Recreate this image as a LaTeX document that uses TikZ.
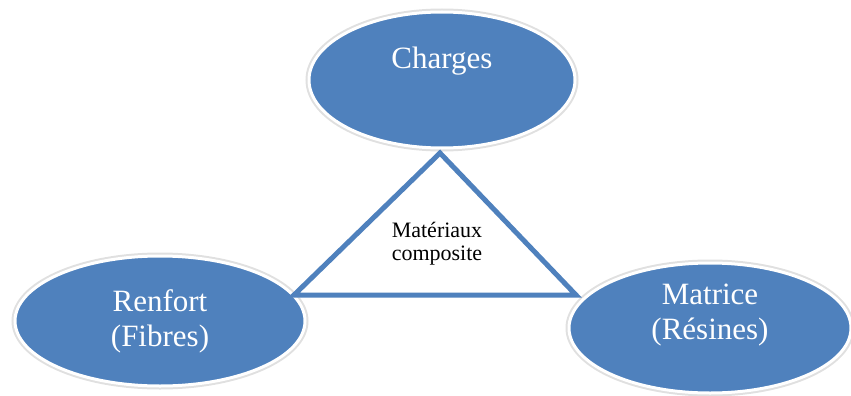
\documentclass[tikz,border=0pt]{standalone}
\usepackage{fontspec}
\setmainfont{Liberation Serif}
\usetikzlibrary{shapes.geometric}
\definecolor{officeblue}{HTML}{4F81BD}

\begin{document}
\begin{tikzpicture}[x=1pt, y=-1pt,
			bubble/.style={ellipse, fill=officeblue, draw=white, line width=3pt, text=white, align=center, inner sep=0pt, font=\fontsize{31}{35}\selectfont, preaction={draw=black!12, line width=7pt}},
			core/.style={align=center, font=\fontsize{22}{23}\selectfont},
			edge/.style={draw=officeblue, line width=5pt, fill=white, line join=miter}
		]
		\useasboundingbox (0,0) rectangle (851,396);
		\node[bubble, minimum width=266pt, minimum height=136pt] (charges) at (442,80) {Charges\\[10pt]\mbox{}};
		\node[bubble, minimum width=290pt, minimum height=130pt] (renfort) at (160,321) {Renfort\\(Fibres)};
		\node[bubble, minimum width=282pt, minimum height=130pt] (matrice) at (710,328) {Matrice\\(Résines)\\[-3pt]\mbox{}};
		\coordinate (apex) at (440,153);
		\coordinate (leftcorner) at (294,295);
		\coordinate (rightcorner) at (576,295);
		\draw[edge] (apex) -- (leftcorner) -- (rightcorner) -- cycle;
		\node[core] (composite) at (437,244) {Matériaux\\composite};
		\end{tikzpicture}
\end{document}
